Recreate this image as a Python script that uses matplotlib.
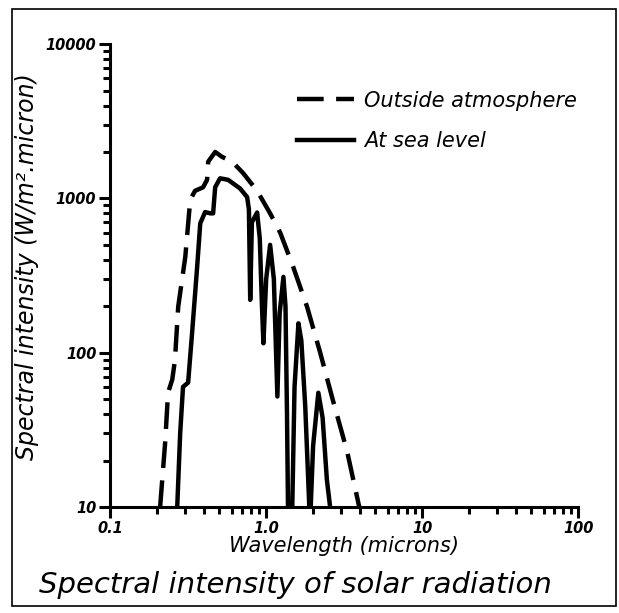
import matplotlib.pyplot as plt
from matplotlib.patches import Rectangle
from matplotlib.ticker import FixedLocator, FixedFormatter, LogLocator, NullFormatter

# ===== DATOS =====
# outside atmosphere (dashed)
wl_out = [0.209, 0.225, 0.235, 0.250, 0.260, 0.273, 0.303, 0.326, 0.350, 0.394,
          0.418, 0.425, 0.471, 0.521, 0.606, 0.711, 0.875, 1.06, 1.23, 1.49,
          1.83, 2.22, 2.68, 3.30, 3.95]
int_out = [10, 26, 55, 67, 89, 199, 417, 980, 1120, 1180,
           1320, 1730, 2000, 1860, 1730, 1460, 1120, 800, 600, 360,
           198, 100, 49, 23, 10]

# at sea level (solid)
wl_sea = [0.269, 0.281, 0.293, 0.316, 0.335, 0.361, 0.378, 0.406, 0.440, 0.457,
          0.471, 0.506, 0.57, 0.68, 0.755, 0.775, 0.79, 0.81, 0.875, 0.91,
          0.94, 0.96, 1.00, 1.06, 1.12, 1.18, 1.22, 1.29, 1.33, 1.36,
          1.38, 1.47, 1.52, 1.61, 1.68, 1.78, 1.86, 1.89, 1.93, 2.00,
          2.16, 2.30, 2.45, 2.57]
int_sea = [10, 30, 60, 64, 134, 360, 690, 815, 800, 800,
           1180, 1350, 1320, 1160, 1020, 850, 220, 700, 810, 550,
           200, 115, 300, 500, 300, 52, 180, 310, 200, 40,
           10, 10, 60, 155, 120, 45, 15, 10, 10, 25,
           55, 38, 15, 10]

x_ticks = [0.1, 1.0, 10, 100]
x_labels = ["0.1", "1.0", "10", "100"]
y_ticks = [10, 100, 1000, 10000]
y_labels = ["10", "100", "1000", "10000"]

# ===== FIGURA =====
fig = plt.figure(figsize=(6.19, 6.13), dpi=100)
ax = fig.add_axes([0.178, 0.173, 0.756, 0.755])

ax.plot(wl_out, int_out, color="black", lw=3.2, ls=(0, (6, 2.8)),
        label="Outside atmosphere")
ax.plot(wl_sea, int_sea, color="black", lw=3.2, label="At sea level")

ax.set_xscale("log")
ax.set_yscale("log")
ax.set_xlim(0.1, 100)
ax.set_ylim(10, 10000)

for s in ["top", "right"]:
    ax.spines[s].set_visible(False)
for s in ["left", "bottom"]:
    ax.spines[s].set_linewidth(2.2)

hand = dict(family="DejaVu Sans", style="italic")

ax.xaxis.set_major_locator(FixedLocator(x_ticks))
ax.xaxis.set_major_formatter(FixedFormatter(x_labels))
ax.yaxis.set_major_locator(FixedLocator(y_ticks))
ax.yaxis.set_major_formatter(FixedFormatter(y_labels))
ax.xaxis.set_minor_locator(LogLocator(base=10, subs=range(2, 10)))
ax.yaxis.set_minor_locator(LogLocator(base=10, subs=range(2, 10)))
ax.xaxis.set_minor_formatter(NullFormatter())
ax.yaxis.set_minor_formatter(NullFormatter())
ax.tick_params(which="major", length=8, width=2.2, direction="out", pad=2)
ax.tick_params(which="minor", length=5, width=2.2, direction="out")
for lab in ax.get_xticklabels() + ax.get_yticklabels():
    lab.set_fontstyle("italic")
    lab.set_fontweight("bold")
    lab.set_fontsize(10.5)

ax.set_xlabel("Wavelength (microns)", fontsize=15, labelpad=0, **hand)
ax.set_ylabel("Spectral intensity (W/m².micron)", fontsize=17, **hand)
ax.yaxis.set_label_coords(-0.152, 0.52)

fig.text(0.477, 0.045, "Spectral intensity of solar radiation", ha="center",
         va="center", fontsize=21, **hand)

leg = ax.legend(loc="upper left", bbox_to_anchor=(0.36, 0.94), frameon=False,
                handlelength=2.7, handletextpad=0.5, labelspacing=1.0,
                prop=dict(family="DejaVu Sans", style="italic", size=15))

# marco exterior
fig.patches.append(Rectangle((0.02, 0.012), 0.975, 0.973, transform=fig.transFigure,
                             fill=False, ec="black", lw=1.2))

fig.savefig("out.png", dpi=100)
